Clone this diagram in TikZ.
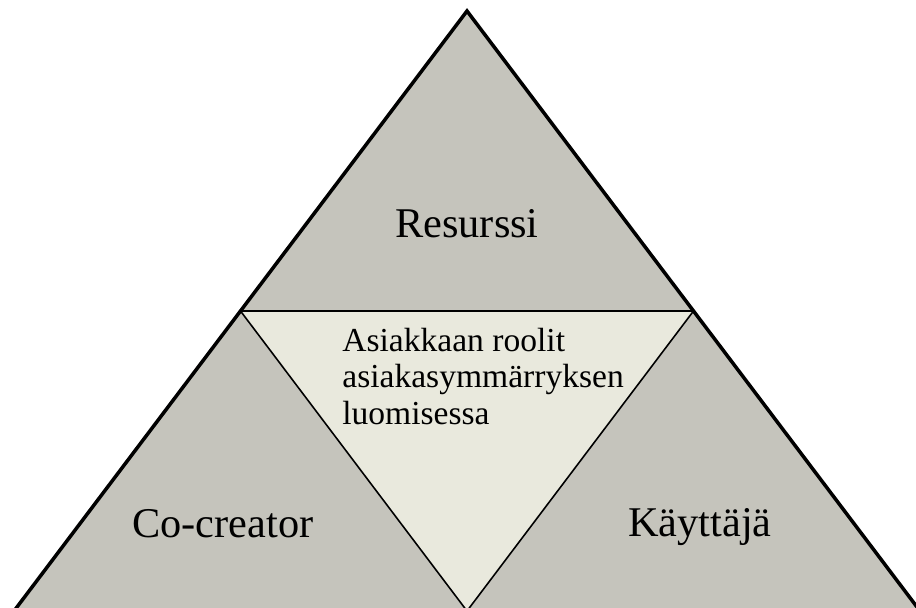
\documentclass[tikz,border=0pt]{standalone}
\usepackage{fontspec}
\setmainfont{Liberation Serif}
\usetikzlibrary{calc}
\definecolor{roleGray}{HTML}{C5C4BC}
\definecolor{roleLight}{HTML}{E9E9DD}

\begin{document}
\begin{tikzpicture}[x=0.02cm,y=-0.02cm,
    outer/.style={draw=black,line width=2pt,line join=miter},
    inner/.style={draw=black,line width=0.9pt},
    rolelabel/.style={anchor=base,font=\fontsize{24.1}{29}\selectfont,inner sep=0pt},
    centrelabel/.style={anchor=base west,align=left,inner sep=0pt,
      font=\fontsize{19.1}{20.7}\selectfont}]
    \useasboundingbox (0,0) rectangle (916,608);
    \clip (0,0) rectangle (916,608);
    % corners of the big triangle and midpoints of its sides
    \coordinate (top) at (467,11);
    \coordinate (left) at (14,611);
    \coordinate (right) at (920,611);
    \coordinate (midL) at ($(top)!0.5!(left)$);
    \coordinate (midR) at ($(top)!0.5!(right)$);
    \coordinate (midB) at ($(left)!0.5!(right)$);
    \fill[roleGray] (top) -- (left) -- (right) -- cycle;
    \filldraw[fill=roleLight,inner] (midL) -- (midR) -- (midB) -- cycle;
    \draw[outer] (top) -- (left) -- (right) -- cycle;
    \node[rolelabel] (resurssi) at (467,237) {Resurssi};
    \node[rolelabel] (cocreator) at (223,537) {Co-creator};
    \node[rolelabel] (kayttaja) at (700,536) {Käyttäjä};
    % base anchor sits on the last line
    \node[centrelabel] (roolit) at (342,424)
      {Asiakkaan roolit\\asiakasymmärryksen\\luomisessa};
\end{tikzpicture}
\end{document}
